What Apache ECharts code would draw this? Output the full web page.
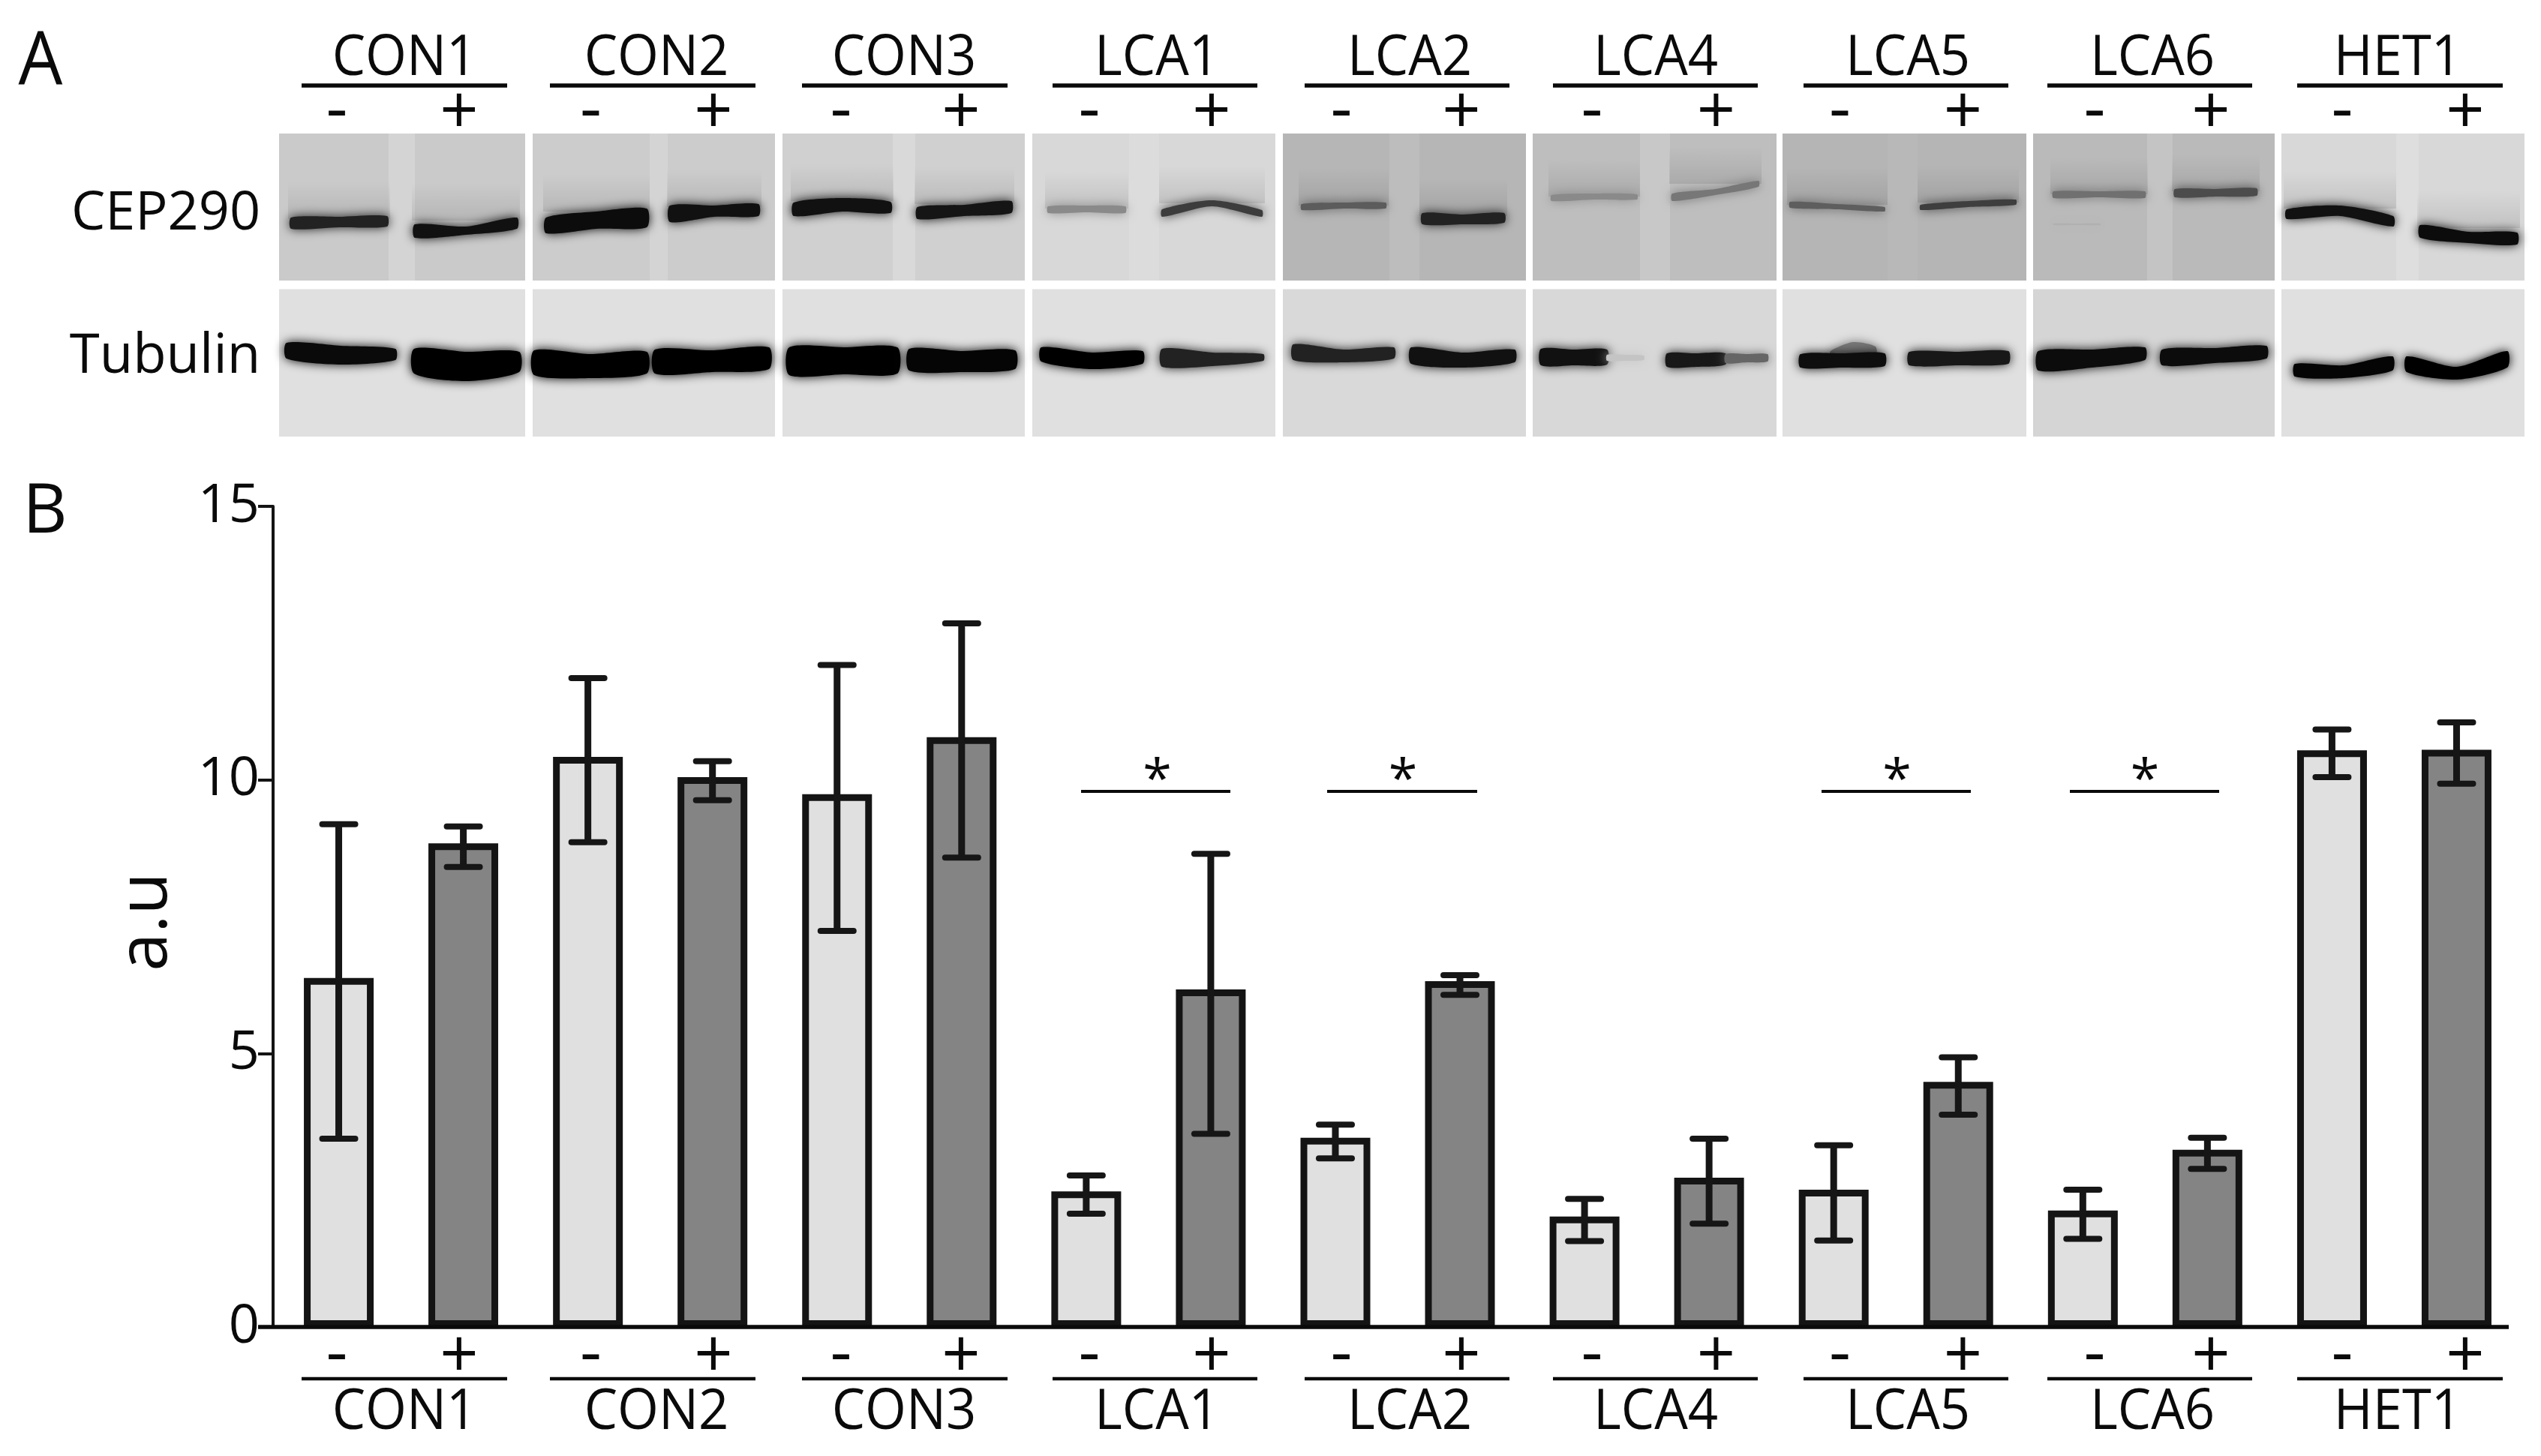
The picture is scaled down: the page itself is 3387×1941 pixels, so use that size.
<!DOCTYPE html>
<html><head><meta charset="utf-8">
<style>html,body{margin:0;padding:0;background:#fff}#c{width:3387px;height:1941px}</style>
<script src="https://cdn.jsdelivr.net/npm/echarts@6/dist/echarts.min.js"></script>
</head><body><div id="c"></div>
<script>
// ---- chart data ----
const groups = ['CON1','CON2','CON3','LCA1','LCA2','LCA4','LCA5','LCA6','HET1'];
const minusValues = [6.38,10.42,9.74,2.48,3.46,2.02,2.51,2.13,10.54];
const minusLow    = [3.44,8.86,7.24,2.07,3.08,1.57,1.58,1.61,10.05];
const minusHigh   = [9.19,11.86,12.10,2.77,3.70,2.34,3.32,2.51,10.92];
const plusValues  = [8.84,10.05,10.78,6.17,6.32,2.73,4.48,3.24,10.55];
const plusLow     = [8.41,9.63,8.58,3.53,6.07,1.89,3.88,2.89,9.93];
const plusHigh    = [9.15,10.34,12.86,8.65,6.43,3.44,4.93,3.46,11.05];
const yTicks = [0,5,10,15];

// ---- layout of annotations (pixels) ----
const FONT = '"Open Sans"';
const labelCx = [539,875,1205,1542,1879,2207,2543,2869,3196];
const ruleX = [[402,676],[733,1007],[1069,1343],[1403,1676],[1739,2012],[2070,2343],[2404,2677],[2729,3002],[3062,3336]];
const minusX = [449,787.5,1121,1452,1788,2122,2452.5,2792,3122];
const plusX = [612,951,1281,1615,1948,2287.5,2616.5,2947,3286];
const sigBars = [[1441,1640,1542.6],[1769,1969,1870],[2428,2627,2528.6],[2759,2958,2859]];
const panelX = [[372,700],[710,1033],[1043,1366],[1376,1700],[1710,2034],[2043,2368],[2376,2701],[2710,3032],[3041,3365]];
const laneGapX = [[518,553],[866,890],[1190,1220],[1505,1545],[1852,1892],[2186,2226],[2516,2556],[2862,2896],[3194,3224]];
const cepTone = ['#cacaca','#cccccc','#d0d0d0','#d8d8d8','#b6b6b6','#bebebe','#b5b5b5','#bababa','#d8d8d8'];
const gapTone = ['#d4d4d4','#d4d4d4','#d9d9d9','#dcdcdc','#bdbdbd','#c8c8c8','#b8b8b8','#c4c4c4','#dedede'];
const tubTone = ['#e0e0e0','#e0e0e0','#e0e0e0','#e0e0e0','#d9d9d9','#d8d8d8','#e0e0e0','#d5d5d5','#e0e0e0'];
// x0,x1, top L/M/R, bottom L/M/R, tone
const cepBands = [
 [388,516,290,289,288,305,303,302,'#222'],[553,689,299,302,290,317,313,305,'#111'],
 [728,862,290,282,278,311,305,303,'#0c0c0c'],[893,1011,274,274,272,296,289,288,'#111'],
 [1058,1187,270,264,269,288,282,284,'#111'],[1223,1348,276,273,268,292,288,284,'#151515'],
 [1397,1500,275,274,275,284,283,284,'#8a8a8a'],[1549,1682,279,267,280,289,275,289,'#3c3c3c'],
 [1735,1847,272,270,270,280,278,278,'#5c5c5c'],[1896,2005,284,286,284,299,299,297,'#222'],
 [2068,2182,260,258,259,268,266,266,'#8a8a8a'],[2229,2344,258,252,241,268,260,249,'#777'],
 [2386,2512,269,272,276,277,279,282,'#5e5e5e'],[2560,2687,273,268,266,280,276,273,'#3e3e3e'],
 [2737,2859,255,255,255,264,263,264,'#707070'],[2899,3008,252,252,251,263,262,261,'#4c4c4c'],
 [3048,3190,279,274,288,292,288,302,'#111'],[3226,3355,300,309,310,317,324,326,'#0c0c0c']
];
const cepFaintBands = [[2737,2800,298,298,298,300,300,300,'#b0b0b0']];
const tubBands = [
 [382,527,457,461,465,478,486,480,'#0a0a0a'],[552,692,465,469,469,498,508,496,'#000'],
 [712,862,467,472,469,500,504,498,'#000'],[873,1025,466,467,463,498,496,492,'#000'],
 [1052,1196,463,463,463,500,499,498,'#000'],[1212,1353,465,468,467,494,496,492,'#050505'],
 [1388,1523,463,470,468,482,492,485,'#000'],[1549,1684,465,470,472,489,488,481,'#222'],
 [1724,1858,459,466,463,480,483,478,'#222'],[1881,2019,463,470,466,485,490,483,'#111'],
 [2054,2142,465,466,466,487,487,486,'#111'],[2142,2191,473,473,474,481,481,480,'#c4c4c4'],
 [2222,2300,471,471,471,489,489,486,'#181818'],[2300,2356,472,472,472,484,483,482,'#666'],
 [2440,2500,468,456,462,476,478,476,'#777'],[2400,2512,472,471,471,490,490,488,'#0e0e0e'],
 [2545,2677,469,469,468,487,487,485,'#181818'],
 [2717,2859,468,466,463,494,490,480,'#0c0c0c'],[2882,3021,466,464,461,487,484,478,'#0c0c0c'],
 [3059,3189,485,487,475,502,504,494,'#050505'],[3208,3342,475,489,468,496,506,490,'#000']
];

const CEP_TOP=178, CEP_BOT=374, TUB_TOP=385.5, TUB_BOT=582;
const g = [];
function text(t,x,y,size,sx,extra){
  g.push(Object.assign({type:'text',x,y,scaleX:sx,z:10,silent:true,
    style:{text:t,font:size+'px '+FONT,fill:'#0a0a0a',textAlign:'center',textVerticalAlign:'middle'}},extra||{}));
}
function rule(x0,x1,y,w,col){
  g.push({type:'line',z:10,silent:true,shape:{x1:x0,y1:y,x2:x1,y2:y},style:{stroke:col||'#0a0a0a',lineWidth:w}});
}
function rect(x,y,w,h,fill,z){g.push({type:'rect',z:z||1,silent:true,shape:{x,y,width:w,height:h},style:{fill}});}
function band(b,halo){
  const [x0,x1,tl,tm,tr,bl,bm,br,c]=b, xm=(x0+x1)/2;
  if(halo){
    const top=Math.min(tl,tm,tr);
    g.push({type:'rect',z:2,silent:true,shape:{x:x0-4,y:top-46,width:x1-x0+8,height:50},
      style:{fill:{type:'linear',x:0,y:0,x2:0,y2:1,colorStops:[{offset:0,color:'rgba(0,0,0,0)'},{offset:1,color:'rgba(0,0,0,0.10)'}]}}});
  }
  g.push({type:'polygon',z:3,silent:true,
    shape:{points:[[x0,tl],[xm,tm],[x1,tr],[x1,br],[xm,bm],[x0,bl]],smooth:0.25},
    style:{fill:c,shadowBlur:14,shadowColor:c}});
}
panelX.forEach((p,i)=>{
  rect(p[0],CEP_TOP,p[1]-p[0],CEP_BOT-CEP_TOP,cepTone[i]);
  rect(laneGapX[i][0],CEP_TOP,laneGapX[i][1]-laneGapX[i][0],CEP_BOT-CEP_TOP,gapTone[i]);
  rect(p[0],TUB_TOP,p[1]-p[0],TUB_BOT-TUB_TOP,tubTone[i]);
});
cepBands.forEach(b=>band(b,true));
cepFaintBands.forEach(b=>band(b,false));
tubBands.forEach(b=>band(b,false));

groups.forEach((name,i)=>{
  text(name,labelCx[i],79,75,0.94);
  rule(ruleX[i][0],ruleX[i][1],114,5.5);
  text('-',minusX[i],149,90,1);
  text('+',plusX[i],152,90,1);
  text('-',minusX[i],1807,90,1);
  text('+',plusX[i],1810,90,1);
  rule(ruleX[i][0],ruleX[i][1],1838,4.5);
  text(name,labelCx[i],1884,75,0.94);
});
text('A',54,84,98,0.95);
text('B',60,684,92,1);
text('CEP290',221,285,72,1);
text('Tubulin',220,476,74,0.98);
sigBars.forEach(s=>{rule(s[0],s[1],1055,4);text('*',s[2],1042,70,1);});
// baseline of the plot, which stops short of the plot area's right edge
rule(344,3344,1769,5.5);

const chart = echarts.init(document.getElementById('c'),null,{renderer:'canvas'});
const errSeries=(name,low,high,sign)=>({
  type:'custom',name,z:6,silent:true,
  data:groups.map((_,i)=>[i,low[i],high[i]]),
  encode:{x:0,y:[1,2]},
  renderItem(params,api){
    const shift=sign*api.size([1,0])[0]/4;
    const a=api.coord([api.value(0),api.value(1)]), b=api.coord([api.value(0),api.value(2)]);
    const x=a[0]+shift, st={stroke:'#161616',lineWidth:9}, cap={stroke:'#161616',lineWidth:8,lineCap:'round'};
    return {type:'group',children:[
      {type:'line',shape:{x1:x,y1:a[1],x2:x,y2:b[1]},style:st},
      {type:'line',shape:{x1:x-22,y1:a[1],x2:x+22,y2:a[1]},style:cap},
      {type:'line',shape:{x1:x-22,y1:b[1],x2:x+22,y2:b[1]},style:cap}
    ]};
  }
});
const barStyle=fill=>({color:fill,borderColor:'#141414',borderWidth:9});
chart.setOption({
  animation:false,backgroundColor:'#fff',
  grid:{left:368.5,top:675,width:2989,height:1094,containLabel:false},
  xAxis:{type:'category',data:groups,axisLine:{show:false},axisTick:{show:false},axisLabel:{show:false}},
  yAxis:{type:'value',min:0,max:15,interval:5,offset:4.5,
    name:'a.u',nameLocation:'middle',nameGap:122,nameRotate:90,
    nameTextStyle:{fontFamily:FONT,fontSize:92,color:'#0a0a0a',padding:[0,14,0,0]},
    axisLine:{show:true,lineStyle:{color:'#141414',width:4}},
    axisTick:{show:true,length:20,lineStyle:{color:'#141414',width:4}},
    splitLine:{show:false},
    axisLabel:{margin:18,fontFamily:FONT,fontSize:72,color:'#0a0a0a',padding:[8,0,0,0],
      formatter:v=>yTicks.includes(v)?String(v):''}},
  graphic:{elements:g},
  series:[
    {type:'bar',name:'-',data:minusValues,barWidth:93,barGap:'78.5%',itemStyle:barStyle('#e0e0e0'),z:3},
    {type:'bar',name:'+',data:plusValues,barWidth:93,barGap:'78.5%',itemStyle:barStyle('#848484'),z:3},
    errSeries('- error',minusLow,minusHigh,-1),
    errSeries('+ error',plusLow,plusHigh,1)
  ]
});
</script></body></html>
